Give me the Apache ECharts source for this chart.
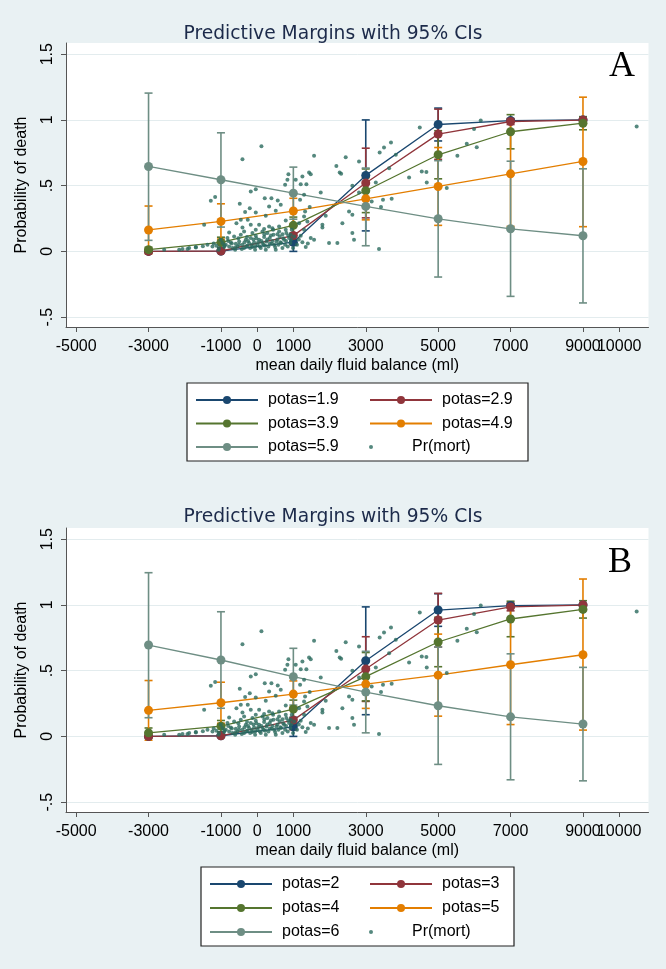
<!DOCTYPE html>
<html><head><meta charset="utf-8">
<script src="https://cdn.jsdelivr.net/npm/echarts@6/dist/echarts.min.js"></script>
<style>html,body{margin:0;padding:0;background:#e9f1f3;}#c{width:666px;height:969px;}</style>
</head><body><div id="c"></div>
<script>
// ---------- data ----------
const xVals = [-3000, -1000, 1000, 3000, 5000, 7000, 9000];
const xTicks = [-5000, -3000, -1000, 0, 1000, 3000, 5000, 7000, 9000, 10000];
const yTicks = [-0.5, 0, 0.5, 1, 1.5];
const yTickLabels = ['-.5', '0', '.5', '1', '1.5'];

// Panel A
const namesA = ['potas=1.9', 'potas=2.9', 'potas=3.9', 'potas=4.9', 'potas=5.9'];
const A19   = [0.000, 0.002, 0.070, 0.578, 0.965, 0.995, 1.000];
const A19lo = [0.000, 0.000, 0.000, 0.156, 0.840, 0.985, 1.000];
const A19hi = [0.000, 0.004, 0.140, 1.000, 1.090, 1.005, 1.000];
const A29   = [0.000, 0.003, 0.120, 0.520, 0.892, 0.988, 0.999];
const A29lo = [0.000, 0.000, 0.050, 0.255, 0.700, 0.965, 0.990];
const A29hi = [0.000, 0.006, 0.190, 0.785, 1.082, 1.011, 1.008];
const A39   = [0.013, 0.069, 0.198, 0.461, 0.735, 0.910, 0.975];
const A39lo = [-0.005, 0.030, 0.135, 0.295, 0.552, 0.780, 0.925];
const A39hi = [0.031, 0.108, 0.261, 0.627, 0.918, 1.040, 1.025];
const A49   = [0.163, 0.228, 0.307, 0.400, 0.494, 0.590, 0.684];
const A49lo = [-0.019, 0.094, 0.210, 0.240, 0.198, 0.190, 0.188];
const A49hi = [0.345, 0.362, 0.404, 0.560, 0.790, 0.990, 1.173];
const A59   = [0.646, 0.545, 0.443, 0.342, 0.248, 0.172, 0.119];
const A59lo = [0.084, 0.185, 0.245, 0.043, -0.195, -0.342, -0.392];
const A59hi = [1.204, 0.902, 0.641, 0.634, 0.690, 0.686, 0.628];

// Panel B
const namesB = ['potas=2', 'potas=3', 'potas=4', 'potas=5', 'potas=6'];
const B2   = [0.000, 0.005, 0.073, 0.575, 0.961, 0.995, 1.000];
const B2lo = [0.000, 0.000, 0.000, 0.165, 0.837, 0.982, 0.998];
const B2hi = [0.000, 0.010, 0.146, 0.985, 1.085, 1.008, 1.002];
const B3   = [0.000, 0.004, 0.124, 0.512, 0.885, 0.985, 0.999];
const B3lo = [0.000, 0.000, 0.050, 0.266, 0.680, 0.955, 0.990];
const B3hi = [0.000, 0.008, 0.198, 0.758, 1.088, 1.015, 1.008];
const B4   = [0.027, 0.078, 0.208, 0.454, 0.718, 0.893, 0.966];
const B4lo = [-0.010, 0.035, 0.140, 0.270, 0.530, 0.758, 0.900];
const B4hi = [0.064, 0.121, 0.276, 0.638, 0.906, 1.028, 1.032];
const B5   = [0.198, 0.256, 0.322, 0.398, 0.466, 0.545, 0.621];
const B5lo = [-0.029, 0.100, 0.222, 0.213, 0.154, 0.090, 0.048];
const B5hi = [0.425, 0.412, 0.422, 0.583, 0.778, 1.000, 1.197];
const B6   = [0.695, 0.581, 0.454, 0.337, 0.233, 0.149, 0.094];
const B6lo = [0.142, 0.214, 0.238, 0.027, -0.213, -0.330, -0.338];
const B6hi = [1.245, 0.948, 0.670, 0.647, 0.680, 0.628, 0.525];

// Observed Pr(mort) points (same in both panels)
const mortX = [
 118,-406,1572,2446,2188,2280,2320,864,1434,1480,1250,1066,836,772,1204,1360,2814,3384,3697,3504,
 2630,-38,-176,-1160,-1280,210,394,569,-480,-204,-333,-38,330,514,238,652,1756,1296,1186,1324,
 1452,1296,1388,1802,1802,1894,2354,2630,2538,2630,2676,2216,1986,3366,3716,3476,3421,3164,2814,-1464,
 -774,-572,-452,-406,-259,-176,-38,54,192,330,440,606,790,790,928,1158,1296,1480,1572,1342,
 1020,1204,
 -2062,-1878,-1694,-1372,-1234,-958,-866,-774,-728,-682,-590,-544,-498,-406,-360,-314,-268,-222,-176,-130,
 -84,-38,8,54,100,146,192,220,256,312,348,404,450,496,532,588,624,661,698,744,
 772,808,845,882,919,956,992,-1004,-820,-636,-452,-360,-130,146,284,422,606,72,-194,-424,
 -608,-1050,-1124,-56,238,514,-1068,-912,
 -2568,-2154,-1924,-1693,
 4492,6176,5991,5790,6066,5531,4675,4197,4547,4685,5238,3830,3645,3277,10483,
 -900,-700,-600,-500,-350,-300,-250,-150,-100,-50,30,120,180,280,350,420,470,560,640,720,
 800,860,940,700,560,380,200,-20,-280,-520,-800,-1200,-1500,1100,1250,1400,1150
];
const mortY = [
 0.800,0.700,0.727,0.716,0.650,0.600,0.590,0.587,0.600,0.587,0.570,0.544,0.544,0.506,0.511,0.511,0.684,0.752,0.828,0.790,
 0.499,0.473,0.456,0.413,0.385,0.405,0.405,0.387,0.362,0.329,0.299,0.296,0.342,0.309,0.271,0.354,0.448,0.430,0.392,0.304,
 0.337,0.266,0.228,0.203,0.182,0.271,0.215,0.278,0.304,0.139,0.089,0.063,0.063,0.018,0.400,0.392,0.337,0.380,0.448,0.203,
 0.144,0.215,0.240,0.182,0.240,0.203,0.165,0.203,0.170,0.190,0.165,0.190,0.235,0.165,0.127,0.215,0.165,0.101,0.089,0.033,
 0.114,0.119,
 0.018,0.025,0.033,0.051,0.038,0.063,0.051,0.038,0.068,0.025,0.058,0.038,0.076,0.051,0.025,0.089,0.043,0.063,0.101,0.033,
 0.068,0.119,0.051,0.089,0.025,0.063,0.109,0.043,0.076,0.038,0.101,0.058,0.127,0.033,0.076,0.051,0.114,0.063,0.025,0.089,
 0.051,0.139,0.038,0.101,0.063,0.165,0.025,0.089,0.101,0.114,0.127,0.152,0.139,0.152,0.139,0.177,0.152,0.038,0.025,0.018,
 0.013,0.025,0.043,0.013,0.013,0.013,0.013,0.033,
 0.013,0.013,0.018,0.030,
 0.942,0.995,0.930,0.818,0.793,0.727,0.603,0.562,0.608,0.524,0.482,0.735,0.633,0.524,0.950,
 0.045,0.060,0.030,0.050,0.070,0.040,0.080,0.050,0.090,0.040,0.070,0.080,0.050,0.090,0.060,0.080,0.050,0.090,0.070,0.100,
 0.080,0.120,0.090,0.130,0.130,0.120,0.130,0.100,0.110,0.100,0.080,0.060,0.040,0.050,0.070,0.060,0.090
];

// ---------- styles ----------
const colors = ['#1a476f', '#90353b', '#55752f', '#e37e00', '#6e8e84'];
const dotColor = '#2a6a5e';
const FONT = 'Liberation Sans';
const AXIS_MIN = -5280, AXIS_MAX = 10810;
const PLOT_H = 284;
// last tick label is drawn by a second, label-only axis so that it may touch its neighbour
const xTicksMain = xTicks.slice(0, -1);
const xTicksLast = xTicks.slice(-1);

const zip2 = (xs, ys) => xs.map((x, i) => [x, ys[i]]);
const zip3 = (xs, lo, hi) => xs.map((x, i) => [x, lo[i], hi[i]]);

function errRender(params, api) {
  const x = api.value(0), lo = api.value(1), hi = api.value(2);
  const a = api.coord([x, lo]), b = api.coord([x, hi]);
  const w = 4;
  const style = { stroke: api.visual('color'), lineWidth: 1.6, fill: null };
  return { type: 'group', children: [
    { type: 'line', shape: { x1: a[0], y1: a[1], x2: b[0], y2: b[1] }, style },
    { type: 'line', shape: { x1: a[0] - w, y1: a[1], x2: a[0] + w, y2: a[1] }, style },
    { type: 'line', shape: { x1: b[0] - w, y1: b[1], x2: b[0] + w, y2: b[1] }, style }
  ]};
}

function panelSeries(idx, names, means, los, his) {
  const out = [];
  names.forEach((n, i) => {
    out.push({
      type: 'custom', name: n + ' CI', xAxisIndex: idx, yAxisIndex: idx, z: 2,
      renderItem: errRender, itemStyle: { color: colors[i] },
      encode: { x: 0, y: [1, 2] }, data: zip3(xVals, los[i], his[i]), silent: true
    });
  });
  names.forEach((n, i) => {
    out.push({
      type: 'line', name: n, xAxisIndex: idx, yAxisIndex: idx, z: 3,
      data: zip2(xVals, means[i]), symbol: 'circle', symbolSize: 9, showSymbol: true,
      lineStyle: { color: colors[i], width: 1.3 }, itemStyle: { color: colors[i] }
    });
  });
  out.push({
    type: 'scatter', name: 'Pr(mort)', xAxisIndex: idx, yAxisIndex: idx, z: 4,
    data: zip2(mortX, mortY), symbolSize: 4, itemStyle: { color: dotColor }
  });
  return out;
}

const labelStyle = { formatter: v => String(v), fontSize: 16, color: '#000', fontFamily: FONT, margin: 12 };

function xAxisFor(idx) {
  return {
    type: 'value', gridIndex: idx, min: AXIS_MIN, max: AXIS_MAX, position: 'bottom',
    axisLine: { show: true, onZero: false, lineStyle: { color: '#555', width: 1 } },
    axisTick: { show: true, customValues: xTicksMain, length: 5, lineStyle: { color: '#555' } },
    axisLabel: Object.assign({ customValues: xTicksMain }, labelStyle),
    splitLine: { show: false },
    name: 'mean daily fluid balance (ml)', nameLocation: 'middle', nameGap: 31,
    nameTextStyle: { fontSize: 16, color: '#000', fontFamily: FONT }
  };
}
function xAxisExtra(idx) {
  return {
    type: 'value', gridIndex: idx, min: AXIS_MIN, max: AXIS_MAX, position: 'top', offset: -PLOT_H,
    axisLine: { show: false, onZero: false },
    axisTick: { show: true, inside: true, customValues: xTicksLast, length: 5, lineStyle: { color: '#555' } },
    axisLabel: Object.assign({ customValues: xTicksLast, inside: true }, labelStyle),
    splitLine: { show: false }
  };
}
function yAxisFor(idx) {
  return {
    type: 'value', gridIndex: idx, min: -0.575, max: 1.585,
    axisLine: { show: true, onZero: false, lineStyle: { color: '#555', width: 1 } },
    axisTick: { show: true, customValues: yTicks, length: 5, lineStyle: { color: '#555' } },
    axisLabel: { customValues: yTicks, rotate: 90, fontSize: 16, color: '#000', fontFamily: FONT, margin: 10,
      formatter: v => { const k = yTicks.indexOf(v); return k >= 0 ? yTickLabels[k] : String(v); } },
    splitLine: { show: true, lineStyle: { color: '#e3ecee', width: 1 } },
    name: 'Probability of death', nameLocation: 'middle', nameGap: 36,
    nameTextStyle: { fontSize: 16, color: '#000', fontFamily: FONT }
  };
}

function legends(names, col1Left, col2Left, top, gap) {
  const base = {
    orient: 'vertical', itemWidth: 62, itemHeight: 10, itemGap: gap, selectedMode: false,
    textStyle: { fontSize: 16, color: '#000', fontFamily: FONT, lineHeight: 16, padding: [0, 0, 0, 5] },
    padding: 0
  };
  return [
    Object.assign({}, base, { left: col1Left, top: top, data: [names[0], names[2], names[4]] }),
    Object.assign({}, base, { left: col2Left, top: top, data: [names[1], names[3]] }),
    Object.assign({}, base, { left: col2Left, top: top + 2 * (16 + gap), itemHeight: 4, data: ['Pr(mort)'] })
  ];
}

const TITLE_FONT = 'DejaVu Sans';
const option = {
  backgroundColor: '#e9f1f3',
  animation: false,
  title: [
    { text: 'Predictive Margins with 95% CIs', left: 'center', top: 20,
      textStyle: { fontSize: 18.7, fontWeight: 'normal', color: '#1c2a4a', fontFamily: TITLE_FONT } },
    { text: 'Predictive Margins with 95% CIs', left: 'center', top: 503,
      textStyle: { fontSize: 18.7, fontWeight: 'normal', color: '#1c2a4a', fontFamily: TITLE_FONT } },
    { text: 'A', left: 604, top: 44, textStyle: { fontSize: 36, fontWeight: 'normal', color: '#000', fontFamily: 'Liberation Serif' } },
    { text: 'B', left: 603, top: 540, textStyle: { fontSize: 36, fontWeight: 'normal', color: '#000', fontFamily: 'Liberation Serif' } }
  ],
  graphic: [
    { type: 'rect', z: 0, shape: { x: 187, y: 383, width: 341, height: 78 }, style: { fill: '#fff', stroke: '#222', lineWidth: 1.2 } },
    { type: 'rect', z: 0, shape: { x: 201, y: 867, width: 313, height: 79 }, style: { fill: '#fff', stroke: '#222', lineWidth: 1.2 } }
  ],
  grid: [
    { left: 66, right: 17.5, top: 43, height: PLOT_H, show: true, backgroundColor: '#fff', borderWidth: 0 },
    { left: 66, right: 17.5, top: 528, height: PLOT_H, show: true, backgroundColor: '#fff', borderWidth: 0 }
  ],
  xAxis: [xAxisFor(0), xAxisFor(1), xAxisExtra(0), xAxisExtra(1)],
  yAxis: [yAxisFor(0), yAxisFor(1)],
  legend: [].concat(legends(namesA, 195, 369, 392, 7.5), legends(namesB, 209, 369, 876, 8)),
  series: [].concat(
    panelSeries(0, namesA, [A19, A29, A39, A49, A59], [A19lo, A29lo, A39lo, A49lo, A59lo], [A19hi, A29hi, A39hi, A49hi, A59hi]),
    panelSeries(1, namesB, [B2, B3, B4, B5, B6], [B2lo, B3lo, B4lo, B5lo, B6lo], [B2hi, B3hi, B4hi, B5hi, B6hi])
  )
};

const chart = echarts.init(document.getElementById('c'), null, { renderer: 'canvas' });
chart.setOption(option);
</script>
</body></html>
